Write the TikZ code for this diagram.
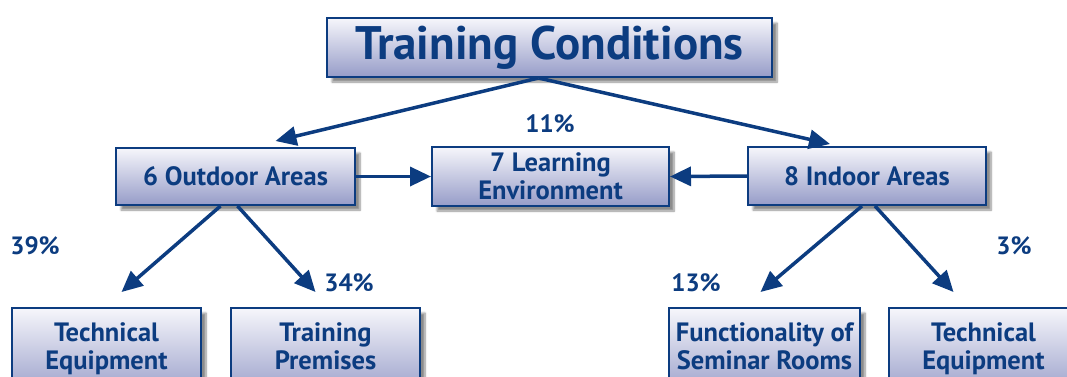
\documentclass[tikz,border=0pt]{standalone}
\usepackage{fontspec}
\setmainfont{PT Sans}
\usetikzlibrary{arrows.meta,shadows.blur,calc}

\definecolor{navy}{RGB}{12,60,128}
\definecolor{boxtop}{RGB}{246,246,251}
\definecolor{boxbot}{RGB}{150,156,200}

\tikzset{
  boxnode/.style={draw=navy, line width=2pt, rectangle, top color=boxtop, bottom color=boxbot,
    text=navy, font=\fontsize{26.5}{28}\selectfont\bfseries, align=center, inner sep=0pt,
    blur shadow={shadow xshift=5pt, shadow yshift=-5pt, shadow blur steps=8, shadow opacity=45}},
  pct/.style={text=navy, font=\fontsize{25}{28}\selectfont\bfseries},
  link/.style={draw=navy, line width=3.5pt, -{Triangle[length=21pt,width=19pt]}}
}

\begin{document}
\begin{tikzpicture}[x=1pt,y=1pt]
\useasboundingbox (0,0) rectangle (1067,-376);
\clip (0,0) rectangle (1067,-376);

% top level
\node [boxnode, minimum width=445, minimum height=59, font=\fontsize{47}{50}\selectfont\bfseries] (title) at (549.5,-47.5) {Training Conditions};

% middle row
\node [boxnode, minimum width=239, minimum height=57] (outdoor) at (235.5,-176.5) {6 Outdoor Areas};
\node [boxnode, minimum width=237, minimum height=59] (learning) at (550.5,-176.5) {7 Learning\\Environment};
\node [boxnode, minimum width=238, minimum height=58] (indoor) at (867,-176) {8 Indoor Areas};

% bottom row
\node [boxnode, minimum width=189, minimum height=90, anchor=north, text depth=14pt] (techL) at (106.5,-307) {Technical\\Equipment};
\node [boxnode, minimum width=189, minimum height=90, anchor=north, text depth=14pt] (premises) at (325.5,-307) {Training\\Premises};
\node [boxnode, minimum width=191, minimum height=90, anchor=north, text depth=14pt] (seminar) at (764.5,-307) {Functionality of\\Seminar Rooms};
\node [boxnode, minimum width=189, minimum height=90, anchor=north, text depth=14pt] (techR) at (983.5,-307) {Technical\\Equipment};

% percentages
\node [pct] (p11) at (550,-124) {11\%};
\node [pct] (p39) at (35,-246) {39\%};
\node [pct] (p34) at (349,-283) {34\%};
\node [pct] (p13) at (696,-283) {13\%};
\node [pct] (p3) at (1014,-246) {3\%};

% connectors
\draw [link] ([xshift=-11pt]title.south) -- ([xshift=40pt,yshift=6pt]outdoor.north);
\draw [link] ([xshift=-11pt]title.south) -- ([xshift=-37pt,yshift=2pt]indoor.north);
\draw [link] (outdoor.east) -- (learning.west);
\draw [link] (indoor.west) -- (learning.east);
\draw [link] ([xshift=-15pt]outdoor.south) -- ([xshift=15pt,yshift=15pt]techL.north);
\draw [link] ([xshift=2pt]outdoor.south) -- ([xshift=-10pt,yshift=15pt]premises.north);
\draw [link] ([xshift=-5pt]indoor.south) -- ([xshift=-4pt,yshift=15pt]seminar.north);
\draw [link] ([xshift=8pt]indoor.south) -- ([xshift=-30pt,yshift=15pt]techR.north);
\end{tikzpicture}
\end{document}
